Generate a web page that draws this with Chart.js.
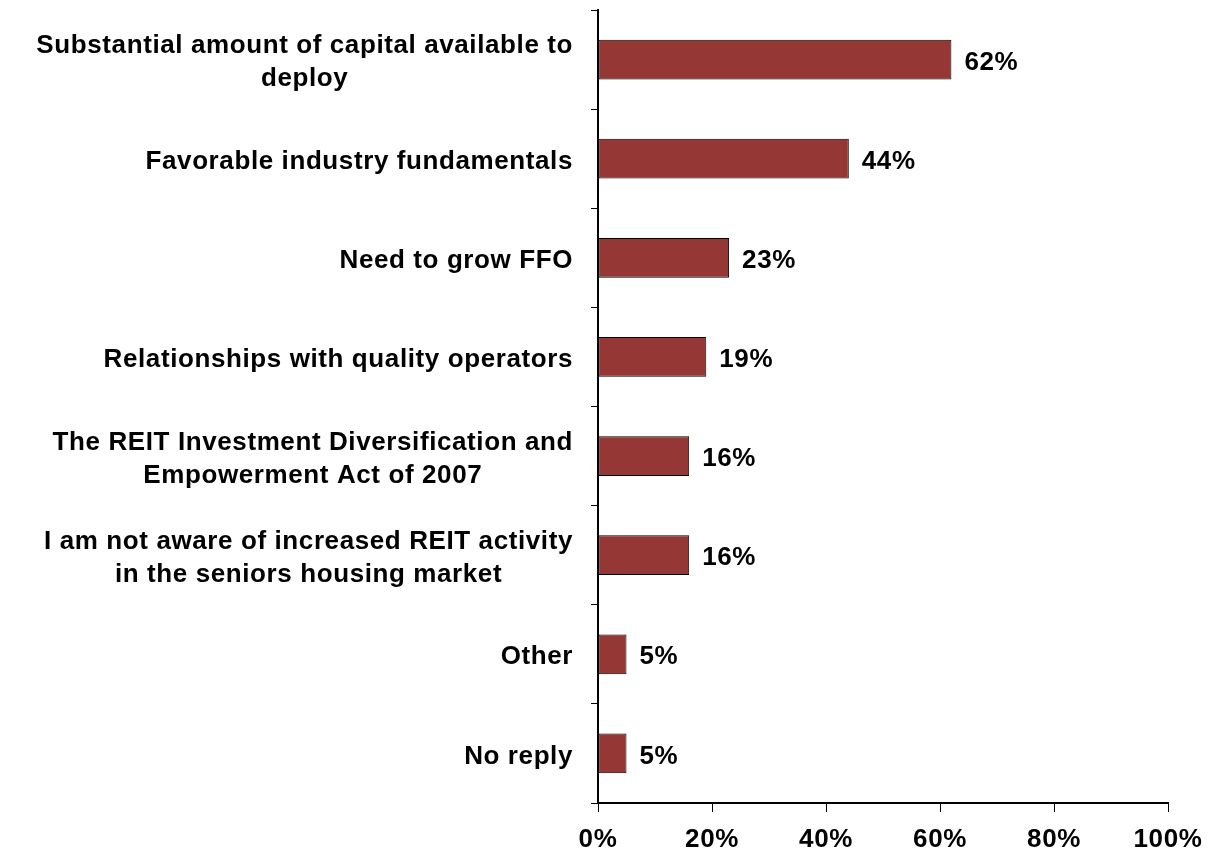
<!DOCTYPE html>
<html>
<head>
<meta charset="utf-8">
<title>REIT activity drivers</title>
<script src="https://cdn.jsdelivr.net/npm/chart.js@4/dist/chart.umd.min.js"></script>
<style>
  html, body { margin: 0; padding: 0; background: #fff; }
  #wrap { width: 1228px; height: 859px; }
</style>
</head>
<body>
<div id="wrap"><canvas id="reitChart" width="1228" height="859"></canvas></div>
<script>
// answers, top to bottom (each entry is the list of label lines)
const categories = [
    ["Substantial amount of capital available to", "deploy"],
    ["Favorable industry fundamentals"],
    ["Need to grow FFO"],
    ["Relationships with quality operators"],
    ["The REIT Investment Diversification and", "Empowerment Act of 2007"],
    ["I am not aware of increased REIT activity", "in the seniors housing market"],
    ["Other"],
    ["No reply"]
];
const shares = [62, 44, 23, 19, 16, 16, 5, 5];
const xTicks = [0, 20, 40, 60, 80, 100];

const FONT = "bold 26px 'Liberation Sans', Arial, sans-serif";
const SPACING = "0.6px";

// slightly loose lettering for every text on the canvas
const spacing = {
    id: "spacing",
    beforeDraw(chart) {
        chart.ctx.letterSpacing = SPACING;
    }
};

// category names: block right-aligned to the axis, lines centred inside it
const categoryLabels = {
    id: "categoryLabels",
    afterDraw(chart) {
        const ctx = chart.ctx;
        const yScale = chart.scales.y;
        const right = chart.chartArea.left - 25;
        const lineH = 33;
        ctx.save();
        ctx.font = FONT;
        ctx.letterSpacing = SPACING;
        ctx.fillStyle = "#000";
        ctx.textAlign = "center";
        ctx.textBaseline = "middle";
        categories.forEach((lines, i) => {
            const widest = Math.max(...lines.map(l => ctx.measureText(l).width));
            const cx = right - widest / 2;
            const cy = yScale.getPixelForValue(i) + 3;
            lines.forEach((line, j) => {
                ctx.fillText(line, cx, cy + (j - (lines.length - 1) / 2) * lineH);
            });
        });
        ctx.restore();
    }
};

// prints the percentage just right of each bar
const valueLabels = {
    id: "valueLabels",
    afterDatasetsDraw(chart) {
        const ctx = chart.ctx;
        const meta = chart.getDatasetMeta(0);
        ctx.save();
        ctx.font = FONT;
        ctx.letterSpacing = SPACING;
        ctx.fillStyle = "#000";
        ctx.textAlign = "left";
        ctx.textBaseline = "middle";
        meta.data.forEach((bar, i) => {
            ctx.fillText(shares[i] + "%", bar.x + 13, bar.y + 3);
        });
        ctx.restore();
    }
};

new Chart(document.getElementById("reitChart").getContext("2d"), {
    type: "bar",
    data: {
        labels: categories.map(c => c.join(" ")),
        datasets: [{
            data: shares,
            backgroundColor: "#953735",
            borderColor: "#000",
            borderWidth: 1,
            borderSkipped: false,
            categoryPercentage: 1,
            barPercentage: 0.4
        }]
    },
    options: {
        indexAxis: "y",
        responsive: false,
        animation: false,
        layout: { padding: { top: 10, right: 60, left: 0, bottom: 0 } },
        plugins: {
            legend: { display: false },
            tooltip: { enabled: false }
        },
        scales: {
            x: {
                min: 0,
                max: 100,
                afterBuildTicks(scale) {
                    scale.ticks = xTicks.map(v => ({ value: v }));
                },
                afterFit(scale) {
                    scale.height = 56;
                    scale.paddingLeft = 0;
                    scale.paddingRight = 0;
                },
                grid: { drawOnChartArea: false, tickLength: 9, color: "#000", lineWidth: 1 },
                border: { color: "#000", width: 2 },
                ticks: {
                    color: "#000",
                    font: { family: "'Liberation Sans', Arial, sans-serif", size: 26, weight: "bold" },
                    padding: 12,
                    maxRotation: 0,
                    autoSkip: false,
                    callback: v => v + "%"
                }
            },
            y: {
                afterFit(scale) {
                    scale.width = 598;
                    scale.paddingTop = 0;
                    scale.paddingBottom = 0;
                },
                grid: { drawOnChartArea: false, offset: true, tickLength: 7, color: "#000", lineWidth: 1 },
                border: { color: "#000", width: 2 },
                ticks: { display: false }
            }
        }
    },
    plugins: [spacing, valueLabels, categoryLabels]
});
</script>
</body>
</html>
